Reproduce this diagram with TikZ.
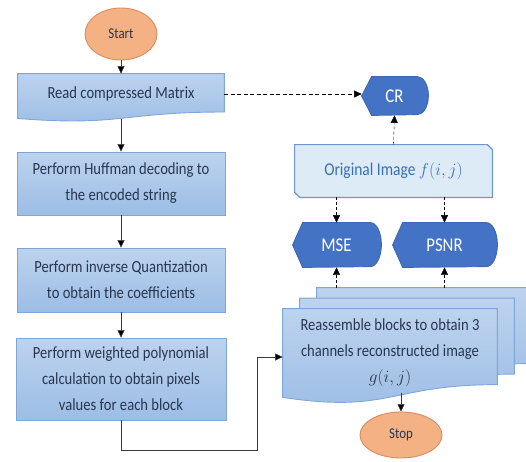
\documentclass[tikz,border=0pt]{standalone}
\usepackage{fontspec}
\newfontfamily\flowfont{Carlito}[FakeStretch=0.86]
\usetikzlibrary{shapes.geometric,arrows.meta,backgrounds}

\definecolor{termfill}{HTML}{F4B183}
\definecolor{termline}{HTML}{DC8A60}
\definecolor{boxtop}{HTML}{BDD3EE}
\definecolor{boxbot}{HTML}{9CBDE5}
\definecolor{boxline}{HTML}{7FA6D9}
\definecolor{boxtext}{HTML}{28374F}
\definecolor{dispfill}{HTML}{4472C4}
\definecolor{displine}{HTML}{3F68B3}
\definecolor{origfill}{HTML}{DDEBF7}
\definecolor{origline}{HTML}{6E97D0}
\definecolor{origtext}{HTML}{3C6FB0}
\definecolor{linegray}{HTML}{3A3A3A}

% wavy bottom document outline: node, full height, x shift, y shift
\newcommand{\docshape}[4]{%
  \path[docbox]
    ([xshift=#3,yshift=#4]#1.north west) -- ([xshift=#3,yshift=#4]#1.north east)
    -- ([xshift=#3,yshift=#4-0.8*#2]#1.north east)
    .. controls ([xshift=#3,yshift=#4-0.8*#2]#1.north)
           and ([xshift=#3,yshift=#4-1.107*#2]#1.north)
    .. ([xshift=#3,yshift=#4-0.934*#2]#1.north west) -- cycle;}

% display outline: pointed left end, rounded right end
\newcommand{\dispshape}[2]{%
  \path[dispbox] (#1.north west) -- (#1.north east)
    arc[start angle=90, end angle=-90, x radius=11pt, y radius=#2]
    -- (#1.south west) -- ([xshift=-10pt]#1.west) -- cycle;}

% box with two opposite corners cut off
\newcommand{\cutshape}[2]{%
  \path[cutbox] (#1.north west) -- ([xshift=-#2]#1.north east) -- ([yshift=-#2]#1.north east)
    -- (#1.south east) -- ([xshift=#2]#1.south west) -- ([yshift=#2]#1.south west) -- cycle;}

\begin{document}
\begin{tikzpicture}[x=1pt,y=-1pt,>={Triangle[length=7.5pt,width=7pt]},line width=0.8pt]
        \tikzstyle{terminal}=[ellipse,draw=termline,fill=termfill,line width=0.9pt,text=boxtext,
            font=\flowfont\fontsize{15}{18}\selectfont]
        \tikzstyle{process}=[rectangle,draw=boxline,line width=0.9pt,top color=boxtop,bottom color=boxbot,
            text=boxtext,align=center,inner sep=0pt,font=\flowfont\fontsize{17}{26}\selectfont]
        \tikzstyle{document}=[rectangle,text=boxtext,align=center,inner sep=0pt,
            font=\flowfont\fontsize{17}{26}\selectfont]
        \tikzstyle{docbox}=[draw=boxline,line width=0.9pt,top color=boxtop,bottom color=boxbot]
        \tikzstyle{display}=[rectangle,text=white,inner sep=0pt,minimum height=44pt,
            font=\flowfont\fontsize{19.5}{22}\selectfont]
        \tikzstyle{dispbox}=[draw=displine,fill=dispfill,line width=0.9pt]
        \tikzstyle{stored}=[rectangle,text=origtext,inner sep=0pt,
            font=\flowfont\fontsize{18}{22}\selectfont]
        \tikzstyle{cutbox}=[draw=origline,fill=origfill,line width=1.2pt]
        \tikzstyle{flow}=[-{Triangle[length=7.5pt,width=7pt,fill=black]},draw=linegray]
        \tikzstyle{dflow}=[->,draw=black,dash pattern=on 3pt off 2pt]

        \useasboundingbox (0,0) rectangle (526,461);

        % Left column: decoding steps
        \node[terminal,minimum width=72pt,minimum height=52pt] (start) at (121,34) {Start};
        \node[document,minimum width=206pt,minimum height=40pt] (read) at (121,94) {Read compressed Matrix};
        \node[process,minimum width=208pt,minimum height=63pt] (huff) at (121,183.5)
            {Perform Huffman decoding to\\the encoded string};
        \node[process,minimum width=208pt,minimum height=64pt] (quant) at (121,280)
            {Perform inverse Quantization\\to obtain the coefficients};
        \node[process,minimum width=210pt,minimum height=82pt] (poly) at (121,379)
            {Perform weighted polynomial\\calculation to obtain pixels\\values for each block};

        % Right column: reconstruction and quality measures
        \node[display,minimum width=45pt,minimum height=38pt] (cr) at (394.5,96) {CR};
        \node[stored,minimum width=197pt,minimum height=52pt] (orig) at (393.5,171)
            {Original Image $f(i,j)$};
        \node[display,minimum width=67pt] (mse) at (336.5,245) {MSE};
        \node[display,minimum width=83pt] (psnr) at (444.5,245) {PSNR};
        \node[document,minimum width=214pt,minimum height=88pt] (front) at (390,353)
            {Reassemble blocks to obtain 3\\channels reconstructed image\\{\fontsize{19}{26}\selectfont$g(i,j)$}};
        \node[terminal,minimum width=82pt,minimum height=46pt] (stop) at (401,435) {Stop};

        % Outlines behind the text
        \begin{pgfonlayer}{background}
            \docshape{read}{48pt}{0pt}{0pt}
            \docshape{front}{95pt}{34pt}{21pt}
            \docshape{front}{95pt}{17pt}{10.5pt}
            \docshape{front}{95pt}{0pt}{0pt}
            \cutshape{orig}{5pt}
            \dispshape{cr}{19pt}
            \foreach \n in {mse,psnr} {
                \dispshape{\n}{22pt}
            }
        \end{pgfonlayer}

        \coordinate (turn) at (257,450);
        \coordinate (crtip) at ([xshift=-10pt]cr.west);
        \coordinate (stacktop) at ([yshift=21pt]front.north);
        \coordinate (front-b) at (stop.north |- front.north);

        % Solid flow
        \draw[flow] (start) -- (read.north);
        \draw[flow] ([yshift=-45pt]read.north) -- (huff.north);
        \draw[flow] (huff) -- (quant);
        \draw[flow] (quant) -- (poly);
        \draw[flow] (poly.south) |- (turn) |- ([yshift=-4pt]front.west);
        \draw[flow] ([yshift=-84pt]front-b) -- (stop.north);

        % Dashed measurement links
        \draw[dflow,dash pattern=on 4pt off 2.5pt] (read.east) -- (read.east -| crtip);
        \draw[dflow] (orig.north) -- (cr.south);
        \foreach \m in {mse,psnr} {
            \draw[dflow] (orig.south -| \m.north) -- (\m.north);
            \draw[dflow] (stacktop -| \m.south) -- (\m.south);
        }
\end{tikzpicture}
\end{document}
